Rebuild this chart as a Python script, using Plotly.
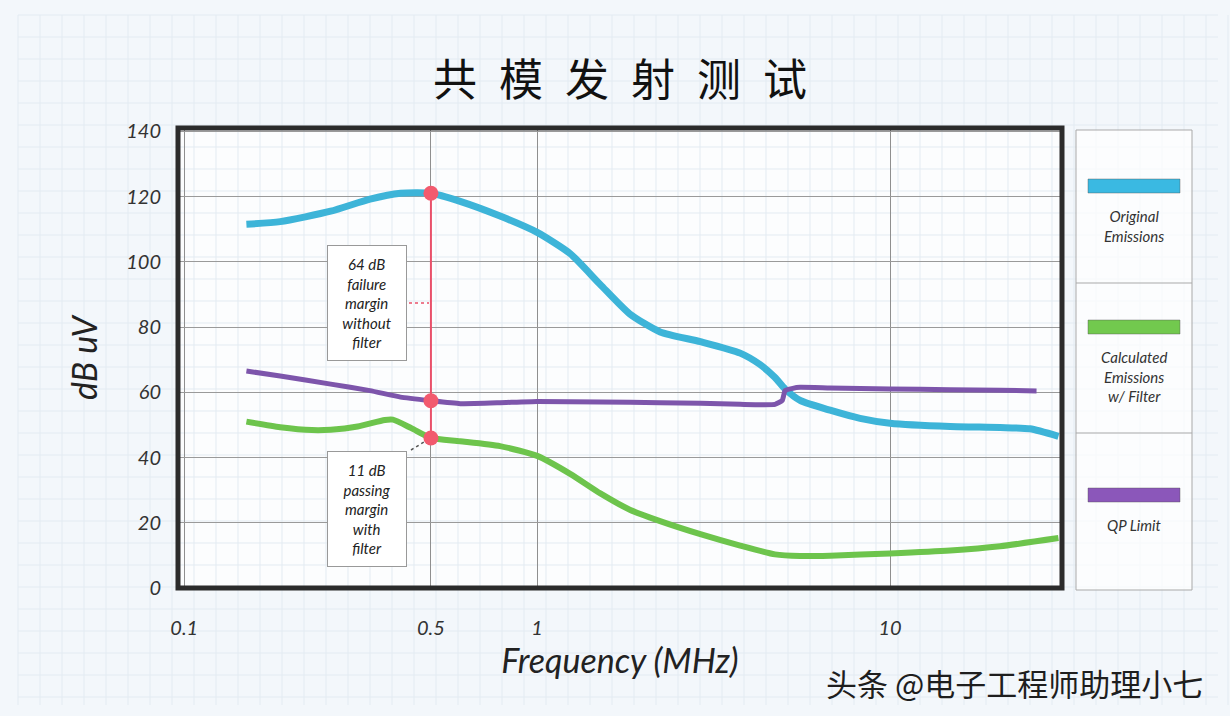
import math
import plotly.graph_objects as go

# ---------------- data ----------------
freq_orig = [0.15, 0.187, 0.26, 0.336, 0.41, 0.5, 0.605, 0.785, 1.0, 1.24, 1.51, 1.83, 2.23, 2.9,
             3.76, 4.28, 4.72, 5.04, 5.56, 6.76, 8.22, 10, 14.8, 20.5, 24.9, 30]
db_orig = [111.5, 112.3, 115.5, 119.2, 121, 121, 118.5, 114, 109, 102.5, 93, 84, 78.5, 75.5,
           72, 68.5, 64.5, 61, 57.5, 54.5, 52, 50.5, 49.5, 49.2, 48.8, 46.5]

freq_qp = [0.15, 0.187, 0.26, 0.336, 0.41, 0.5, 0.605, 0.785, 1.0, 1.51, 2.23, 2.9, 3.76, 4.72,
           4.95, 5.04, 5.3, 5.56, 6.76, 10, 14.8, 20.5, 26]
db_qp = [66.5, 65, 62.5, 60.5, 58.5, 57.4, 56.5, 56.8, 57.2, 57, 56.8, 56.6, 56.3, 56.3,
         57.5, 60.5, 61.2, 61.5, 61.3, 61, 60.8, 60.6, 60.4]

freq_filt = [0.15, 0.187, 0.23, 0.26, 0.31, 0.37, 0.39, 0.44, 0.5, 0.605, 0.785, 1.0, 1.24, 1.51,
             1.83, 2.23, 2.9, 3.76, 4.72, 5.56, 6.76, 10, 14.8, 20.5, 30]
db_filt = [51, 49.3, 48.4, 48.5, 49.5, 51.5, 51.6, 49, 46, 45, 43.5, 40.5, 35, 29,
           24, 20.5, 16.5, 13, 10.3, 9.8, 9.9, 10.6, 11.5, 12.8, 15.3]

marker_freq = [0.5, 0.5, 0.5]
marker_db = [121, 57.4, 46]

x_tick_vals = [0.1, 0.5, 1, 10]
x_tick_text = ["0.1", "0.5", "1", "10"]
y_tick_vals = [0, 20, 40, 60, 80, 100, 120, 140]

series_names = ["Original<br>Emissions", "Calculated<br>Emissions<br>w/ Filter", "QP Limit"]
series_colors = ["#3db4d8", "#6dc44c", "#7d55ab"]
legend_colors = ["#3ab9e2", "#72c94e", "#8b57ba"]

title_text = "共\u2002模\u2002发\u2002射\u2002测\u2002试"
note_fail = "64 dB<br>failure<br>margin<br>without<br>filter"
note_pass = "11 dB<br>passing<br>margin<br>with<br>filter"
watermark = "头条 @电子工程师助理小七"

# ---------------- layout geometry ----------------
W, H = 1230, 716
L, R, T, B = 178, 1062, 128, 588


def px(x):
    return (x - L) / (R - L)


def py(y):
    return (B - y) / (B - T)


hand = "Lato"

fig = go.Figure()

fig.add_trace(go.Scatter(x=freq_orig, y=db_orig, mode="lines",
                         line=dict(color=series_colors[0], width=7, shape="spline", smoothing=0.6),
                         name="Original Emissions", showlegend=False))
fig.add_trace(go.Scatter(x=freq_qp, y=db_qp, mode="lines",
                         line=dict(color=series_colors[2], width=5, shape="spline", smoothing=0.4),
                         name="QP Limit", showlegend=False))
fig.add_trace(go.Scatter(x=freq_filt, y=db_filt, mode="lines",
                         line=dict(color=series_colors[1], width=6, shape="spline", smoothing=0.6),
                         name="Calculated Emissions w/ Filter", showlegend=False))
fig.add_trace(go.Scatter(x=[marker_freq[0], marker_freq[-1]], y=[marker_db[0], marker_db[-1]], mode="lines",
                         line=dict(color="#e9506a", width=2), showlegend=False))
fig.add_trace(go.Scatter(x=marker_freq, y=marker_db, mode="markers",
                         marker=dict(color="#f25a6e", size=15), showlegend=False))

shapes = []
# paper grid background
g = 22
for i in range(0, W // g + 1):
    shapes.append(dict(type="line", xref="paper", yref="paper", x0=px(18 + i * g), x1=px(18 + i * g),
                       y0=py(15), y1=py(705), line=dict(color="#e3ebf2", width=1), layer="below"))
for j in range(0, H // g + 1):
    shapes.append(dict(type="line", xref="paper", yref="paper", x0=px(18), x1=px(1218),
                       y0=py(15 + j * g), y1=py(15 + j * g), line=dict(color="#e3ebf2", width=1), layer="below"))

# frame
shapes.append(dict(type="rect", xref="paper", yref="paper", x0=0, x1=1, y0=0, y1=1,
                   line=dict(color="#2b2b2b", width=5), layer="above"))

# leaders
shapes.append(dict(type="line", xref="paper", yref="paper", x0=px(409), x1=px(429), y0=py(303), y1=py(303),
                   line=dict(color="#e9506a", width=1.5, dash="dot")))
shapes.append(dict(type="line", xref="paper", yref="paper", x0=px(411), x1=px(424), y0=py(450), y1=py(442),
                   line=dict(color="#555", width=1.5, dash="dot")))

# legend box
shapes.append(dict(type="rect", xref="paper", yref="paper", x0=px(1076), x1=px(1192), y0=py(130), y1=py(590),
                   line=dict(color="#a9a9a9", width=1), fillcolor="rgba(255,255,255,0.7)"))
for yy in (283, 433):
    shapes.append(dict(type="line", xref="paper", yref="paper", x0=px(1076), x1=px(1192), y0=py(yy), y1=py(yy),
                       line=dict(color="#a9a9a9", width=1)))
swatch_y = [186, 327, 495]
for c, yy in zip(legend_colors, swatch_y):
    shapes.append(dict(type="rect", xref="paper", yref="paper", x0=px(1088), x1=px(1180), y0=py(yy - 7),
                       y1=py(yy + 7), line=dict(color="rgba(80,80,80,0.4)", width=1), fillcolor=c))

annotations = []
text_y = [226, 376, 525]
for name, yy in zip(series_names, text_y):
    annotations.append(dict(xref="paper", yref="paper", x=px(1134), y=py(yy), text=name, showarrow=False,
                            xanchor="center", yanchor="middle",
                            font=dict(family=hand, size=15, color="#333", style="italic"), align="center"))

for note, yy in ((note_fail, 303), (note_pass, 509)):
    annotations.append(dict(xref="paper", yref="paper", x=px(367), y=py(yy), text=note, showarrow=False,
                            xanchor="center", yanchor="middle",
                            font=dict(family=hand, size=15, color="#222", style="italic"), align="center",
                            bgcolor="white", bordercolor="#999", borderwidth=1, borderpad=7, width=64,
                            height=100))

annotations.append(dict(xref="paper", yref="paper", x=px(1014), y=py(682), text=watermark, showarrow=False,
                        xanchor="center", yanchor="middle",
                        font=dict(family="Noto Sans CJK SC", size=31, color="#1e1e1e")))

fig.update_layout(
    width=W, height=H,
    margin=dict(l=L, r=W - R, t=T, b=H - B),
    paper_bgcolor="#f3f7fb",
    plot_bgcolor="rgba(255,255,255,0.7)",
    title=dict(text=title_text, x=0.5, xref="paper", y=1 - 81 / H, yanchor="middle",
               font=dict(family="Noto Sans CJK SC", size=44, color="#111", weight="normal")),
    xaxis=dict(type="log", range=[math.log10(0.096), math.log10(30.7)], tickvals=x_tick_vals,
               ticktext=x_tick_text,
               showgrid=True, gridcolor="#8f8f8f", gridwidth=1, zeroline=False, showline=False, ticks="",
               ticklabelstandoff=26, tickfont=dict(family=hand, size=20, color="#333", style="italic"),
               title=dict(text="Frequency (MHz)", standoff=8,
                          font=dict(family=hand, size=34, color="#222", style="italic"))),
    yaxis=dict(range=[0, 141], tickvals=y_tick_vals, showgrid=True, gridcolor="#9a9a9a", gridwidth=1,
               zeroline=False, showline=False, ticks="", ticklabelstandoff=16,
               tickfont=dict(family=hand, size=20, color="#333", style="italic"),
               title=dict(text="dB uV", standoff=18,
                          font=dict(family=hand, size=34, color="#222", style="italic"))),
    shapes=shapes,
    annotations=annotations,
    showlegend=False,
)

fig.write_html("out.html")
